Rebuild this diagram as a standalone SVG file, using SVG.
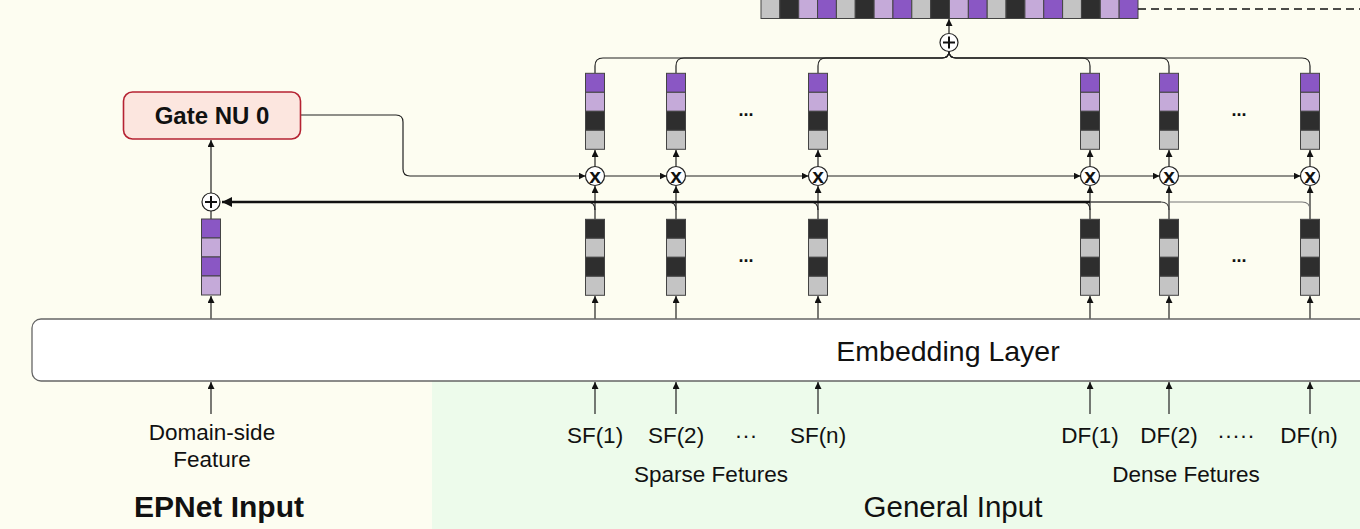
<svg xmlns="http://www.w3.org/2000/svg" width="1360" height="529" viewBox="0 0 1360 529">
<style>
text{font-family:"Liberation Sans",Arial,sans-serif;fill:#111}
.lbl{font-size:22.5px;text-anchor:middle}
.cell{stroke:#444;stroke-width:1}
.p{fill:#8a57c4}.lp{fill:#c5aad9}.d{fill:#2e2e2e}.g{fill:#c4c4c4}
.ln{fill:none;stroke:#222;stroke-width:1.2}
.op{fill:#fff;stroke:#222;stroke-width:1.2}
.xt{font-size:21px;font-weight:bold;text-anchor:middle}
.dots{font-size:18px;font-weight:bold;text-anchor:middle}
</style>
<defs>
<marker id="ah" viewBox="0 0 10 10" refX="10" refY="5" markerWidth="7" markerHeight="7" markerUnits="userSpaceOnUse" orient="auto"><path d="M0,0 L10,5 L0,10 z" fill="#111"/></marker>
<marker id="ahb" viewBox="0 0 10 10" refX="10" refY="5" markerWidth="10" markerHeight="10" markerUnits="userSpaceOnUse" orient="auto"><path d="M0,0 L10,5 L0,10 z" fill="#111"/></marker>
</defs>
<rect x="0" y="0" width="1360" height="529" fill="#fdfdf1"/>
<rect x="432" y="350" width="928" height="179" fill="#edfbeb"/>

<g id="output-vector">
<rect class="cell g" x="761" y="-1" width="18.85" height="19.5"/>
<rect class="cell d" x="779.85" y="-1" width="18.85" height="19.5"/>
<rect class="cell lp" x="798.7" y="-1" width="18.85" height="19.5"/>
<rect class="cell p" x="817.55" y="-1" width="18.85" height="19.5"/>
<rect class="cell g" x="836.4" y="-1" width="18.85" height="19.5"/>
<rect class="cell d" x="855.25" y="-1" width="18.85" height="19.5"/>
<rect class="cell lp" x="874.1" y="-1" width="18.85" height="19.5"/>
<rect class="cell p" x="892.95" y="-1" width="18.85" height="19.5"/>
<rect class="cell g" x="911.8" y="-1" width="18.85" height="19.5"/>
<rect class="cell d" x="930.65" y="-1" width="18.85" height="19.5"/>
<rect class="cell lp" x="949.5" y="-1" width="18.85" height="19.5"/>
<rect class="cell p" x="968.35" y="-1" width="18.85" height="19.5"/>
<rect class="cell g" x="987.2" y="-1" width="18.85" height="19.5"/>
<rect class="cell d" x="1006.05" y="-1" width="18.85" height="19.5"/>
<rect class="cell lp" x="1024.9" y="-1" width="18.85" height="19.5"/>
<rect class="cell p" x="1043.75" y="-1" width="18.85" height="19.5"/>
<rect class="cell g" x="1062.6" y="-1" width="18.85" height="19.5"/>
<rect class="cell d" x="1081.45" y="-1" width="18.85" height="19.5"/>
<rect class="cell lp" x="1100.3" y="-1" width="18.85" height="19.5"/>
<rect class="cell p" x="1119.15" y="-1" width="18.85" height="19.5"/>
</g>

<g id="connectors">
<path d="M1138,9 L1360,9" fill="none" stroke="#111" stroke-width="1.5" stroke-dasharray="8,5"/>
<path class="ln" d="M949,33 L949,19" marker-end="url(#ah)"/>
<path class="ln" d="M949,51 Q949,58 942,58 L603,58 Q595,58 595,66 L595,73"/>
<path class="ln" d="M949,51 Q949,58 942,58 L684,58 Q676,58 676,66 L676,73"/>
<path class="ln" d="M949,51 Q949,58 942,58 L826,58 Q818,58 818,66 L818,73"/>
<path class="ln" d="M949,51 Q949,58 956,58 L1082,58 Q1090,58 1090,66 L1090,73"/>
<path class="ln" d="M949,51 Q949,58 956,58 L1161,58 Q1169,58 1169,66 L1169,73"/>
<path class="ln" d="M949,51 Q949,58 956,58 L1302,58 Q1310,58 1310,66 L1310,73"/>
<path class="ln" d="M595,166.5 L595,150" marker-end="url(#ah)"/>
<path class="ln" d="M676,166.5 L676,150" marker-end="url(#ah)"/>
<path class="ln" d="M818,166.5 L818,150" marker-end="url(#ah)"/>
<path class="ln" d="M1090,166.5 L1090,150" marker-end="url(#ah)"/>
<path class="ln" d="M1169,166.5 L1169,150" marker-end="url(#ah)"/>
<path class="ln" d="M1310,166.5 L1310,150" marker-end="url(#ah)"/>
<path class="ln" d="M595,219 L595,186" marker-end="url(#ah)"/>
<path class="ln" d="M676,219 L676,186" marker-end="url(#ah)"/>
<path class="ln" d="M818,219 L818,186" marker-end="url(#ah)"/>
<path class="ln" d="M1090,219 L1090,186" marker-end="url(#ah)"/>
<path class="ln" d="M1169,219 L1169,186" marker-end="url(#ah)"/>
<path class="ln" d="M1310,219 L1310,186" marker-end="url(#ah)"/>
<path class="ln" d="M300,115 L396,115 Q403,115 403,122 L403,169 Q403,176 410,176 L585.5,176" marker-end="url(#ah)"/>
<path class="ln" d="M604.5,176 L666.5,176" marker-end="url(#ah)"/>
<path class="ln" d="M685.5,176 L808.5,176" marker-end="url(#ah)"/>
<path class="ln" d="M827.5,176 L1080.5,176" marker-end="url(#ah)"/>
<path class="ln" d="M1099.5,176 L1159.5,176" marker-end="url(#ah)"/>
<path class="ln" d="M1178.5,176 L1300.5,176" marker-end="url(#ah)"/>
<path d="M1302,202 Q1310,202 1310,210" fill="none" stroke="#777" stroke-width="1.2"/>
<path d="M1302,202 L1169,202" fill="none" stroke="#777" stroke-width="1.2"/>
<path d="M1161,202 Q1169,202 1169,210" fill="none" stroke="#444" stroke-width="1.2"/>
<path d="M1161,202 L1090,202" fill="none" stroke="#444" stroke-width="1.6"/>
<path class="ln" d="M1082,202 Q1090,202 1090,210"/>
<path class="ln" d="M810,202 Q818,202 818,210"/>
<path class="ln" d="M668,202 Q676,202 676,210"/>
<path class="ln" d="M587,202 Q595,202 595,210"/>
<path d="M1090,202 L222,202" fill="none" stroke="#111" stroke-width="2.4" marker-end="url(#ahb)"/>
<path class="ln" d="M211,219 L211,211"/>
<path class="ln" d="M211,193 L211,140" marker-end="url(#ah)"/>
<path class="ln" d="M211,319 L211,296" marker-end="url(#ah)"/>
<path class="ln" d="M595,319 L595,296" marker-end="url(#ah)"/>
<path class="ln" d="M676,319 L676,296" marker-end="url(#ah)"/>
<path class="ln" d="M818,319 L818,296" marker-end="url(#ah)"/>
<path class="ln" d="M1090,319 L1090,296" marker-end="url(#ah)"/>
<path class="ln" d="M1169,319 L1169,296" marker-end="url(#ah)"/>
<path class="ln" d="M1310,319 L1310,296" marker-end="url(#ah)"/>
<path class="ln" d="M211,414 L211,382" marker-end="url(#ah)"/>
<path class="ln" d="M595,414 L595,382" marker-end="url(#ah)"/>
<path class="ln" d="M676,414 L676,382" marker-end="url(#ah)"/>
<path class="ln" d="M818,414 L818,382" marker-end="url(#ah)"/>
<path class="ln" d="M1090,414 L1090,382" marker-end="url(#ah)"/>
<path class="ln" d="M1169,414 L1169,382" marker-end="url(#ah)"/>
<path class="ln" d="M1310,414 L1310,382" marker-end="url(#ah)"/>
</g>

<g id="sum-top">
<circle class="op" cx="949" cy="42.5" r="9"/>
<path d="M943,42.5 L955,42.5 M949,36.5 L949,48.5" stroke="#111" stroke-width="2"/>
</g>

<g id="gate-nu-0">
<rect x="123.5" y="92" width="177" height="47" rx="9" fill="#fce6df" stroke="#b52232" stroke-width="1.6"/>
<text x="212" y="124" font-size="24" font-weight="bold" text-anchor="middle">Gate NU 0</text>
</g>

<g id="sum-left">
<circle class="op" cx="211" cy="202" r="9"/>
<path d="M205,202 L217,202 M211,196 L211,208" stroke="#111" stroke-width="2"/>
</g>

<g id="domain-embedding">
<rect class="cell p" x="201.5" y="219" width="19" height="19"/>
<rect class="cell lp" x="201.5" y="238" width="19" height="19"/>
<rect class="cell p" x="201.5" y="257" width="19" height="19"/>
<rect class="cell lp" x="201.5" y="276" width="19" height="19"/>
</g>

<g id="sparse-1">
<rect class="cell p" x="585.5" y="73.3" width="19" height="19"/>
<rect class="cell lp" x="585.5" y="92.3" width="19" height="19"/>
<rect class="cell d" x="585.5" y="111.3" width="19" height="19"/>
<rect class="cell g" x="585.5" y="130.3" width="19" height="19"/>
<circle class="op" cx="595" cy="176" r="9.5"/><text class="xt" x="595" y="182.5">x</text>
<rect class="cell d" x="585.5" y="219.3" width="19" height="19"/>
<rect class="cell g" x="585.5" y="238.3" width="19" height="19"/>
<rect class="cell d" x="585.5" y="257.3" width="19" height="19"/>
<rect class="cell g" x="585.5" y="276.3" width="19" height="19"/>
</g>
<g id="sparse-2">
<rect class="cell p" x="666.5" y="73.3" width="19" height="19"/>
<rect class="cell lp" x="666.5" y="92.3" width="19" height="19"/>
<rect class="cell d" x="666.5" y="111.3" width="19" height="19"/>
<rect class="cell g" x="666.5" y="130.3" width="19" height="19"/>
<circle class="op" cx="676" cy="176" r="9.5"/><text class="xt" x="676" y="182.5">x</text>
<rect class="cell d" x="666.5" y="219.3" width="19" height="19"/>
<rect class="cell g" x="666.5" y="238.3" width="19" height="19"/>
<rect class="cell d" x="666.5" y="257.3" width="19" height="19"/>
<rect class="cell g" x="666.5" y="276.3" width="19" height="19"/>
</g>
<g id="sparse-n">
<rect class="cell p" x="808.5" y="73.3" width="19" height="19"/>
<rect class="cell lp" x="808.5" y="92.3" width="19" height="19"/>
<rect class="cell d" x="808.5" y="111.3" width="19" height="19"/>
<rect class="cell g" x="808.5" y="130.3" width="19" height="19"/>
<circle class="op" cx="818" cy="176" r="9.5"/><text class="xt" x="818" y="182.5">x</text>
<rect class="cell d" x="808.5" y="219.3" width="19" height="19"/>
<rect class="cell g" x="808.5" y="238.3" width="19" height="19"/>
<rect class="cell d" x="808.5" y="257.3" width="19" height="19"/>
<rect class="cell g" x="808.5" y="276.3" width="19" height="19"/>
</g>
<g id="dense-1">
<rect class="cell p" x="1080.5" y="73.3" width="19" height="19"/>
<rect class="cell lp" x="1080.5" y="92.3" width="19" height="19"/>
<rect class="cell d" x="1080.5" y="111.3" width="19" height="19"/>
<rect class="cell g" x="1080.5" y="130.3" width="19" height="19"/>
<circle class="op" cx="1090" cy="176" r="9.5"/><text class="xt" x="1090" y="182.5">x</text>
<rect class="cell d" x="1080.5" y="219.3" width="19" height="19"/>
<rect class="cell g" x="1080.5" y="238.3" width="19" height="19"/>
<rect class="cell d" x="1080.5" y="257.3" width="19" height="19"/>
<rect class="cell g" x="1080.5" y="276.3" width="19" height="19"/>
</g>
<g id="dense-2">
<rect class="cell p" x="1159.5" y="73.3" width="19" height="19"/>
<rect class="cell lp" x="1159.5" y="92.3" width="19" height="19"/>
<rect class="cell d" x="1159.5" y="111.3" width="19" height="19"/>
<rect class="cell g" x="1159.5" y="130.3" width="19" height="19"/>
<circle class="op" cx="1169" cy="176" r="9.5"/><text class="xt" x="1169" y="182.5">x</text>
<rect class="cell d" x="1159.5" y="219.3" width="19" height="19"/>
<rect class="cell g" x="1159.5" y="238.3" width="19" height="19"/>
<rect class="cell d" x="1159.5" y="257.3" width="19" height="19"/>
<rect class="cell g" x="1159.5" y="276.3" width="19" height="19"/>
</g>
<g id="dense-n">
<rect class="cell p" x="1300.5" y="73.3" width="19" height="19"/>
<rect class="cell lp" x="1300.5" y="92.3" width="19" height="19"/>
<rect class="cell d" x="1300.5" y="111.3" width="19" height="19"/>
<rect class="cell g" x="1300.5" y="130.3" width="19" height="19"/>
<circle class="op" cx="1310" cy="176" r="9.5"/><text class="xt" x="1310" y="182.5">x</text>
<rect class="cell d" x="1300.5" y="219.3" width="19" height="19"/>
<rect class="cell g" x="1300.5" y="238.3" width="19" height="19"/>
<rect class="cell d" x="1300.5" y="257.3" width="19" height="19"/>
<rect class="cell g" x="1300.5" y="276.3" width="19" height="19"/>
</g>

<g id="ellipses">
<text class="dots" x="746" y="116">...</text>
<text class="dots" x="746" y="262">...</text>
<text class="dots" x="1239" y="116">...</text>
<text class="dots" x="1239" y="262">...</text>
</g>

<g id="embedding-layer">
<rect x="32" y="319" width="1350" height="62" rx="9" fill="#fff" stroke="#666" stroke-width="1.3"/>
<text x="948" y="361" font-size="28.5" text-anchor="middle">Embedding Layer</text>
</g>

<g id="labels">
<text class="lbl" x="212" y="440">Domain-side</text>
<text class="lbl" x="212" y="467">Feature</text>
<text x="219" y="517" font-size="30" font-weight="bold" text-anchor="middle">EPNet Input</text>
<text class="lbl" x="595" y="443">SF(1)</text>
<text class="lbl" x="676" y="443">SF(2)</text>
<text class="lbl" x="746" y="443">···</text>
<text class="lbl" x="818" y="443">SF(n)</text>
<text class="lbl" x="711" y="482">Sparse Fetures</text>
<text class="lbl" x="1090" y="443">DF(1)</text>
<text class="lbl" x="1169" y="443">DF(2)</text>
<text class="lbl" x="1236" y="443">·····</text>
<text class="lbl" x="1309" y="443">DF(n)</text>
<text class="lbl" x="1186" y="482">Dense Fetures</text>
<text x="953" y="517" font-size="29.5" text-anchor="middle">General Input</text>
</g>
</svg>
